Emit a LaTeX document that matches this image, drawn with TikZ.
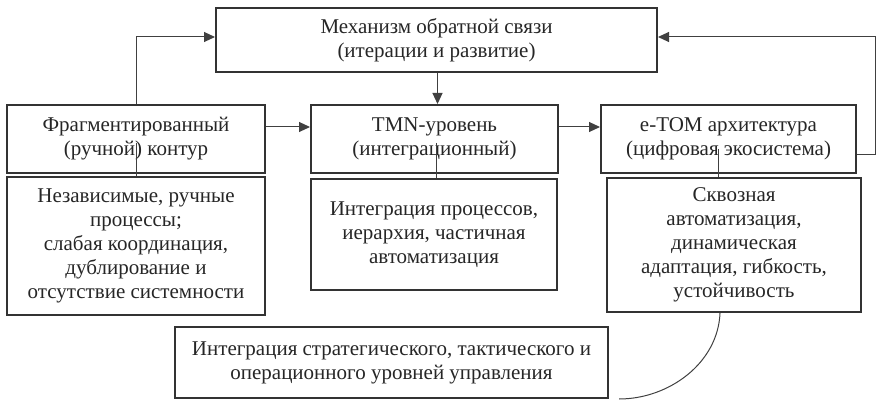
\documentclass[tikz,border=0pt]{standalone}
\usepackage{fontspec}
\setmainfont{Liberation Serif}
\usetikzlibrary{arrows.meta}

\begin{document}
\begin{tikzpicture}[x=0.5pt,y=-0.5pt,
    box/.style={draw=black!80,line width=1pt,align=center,inner sep=0pt,
      font=\fontsize{10.5}{12}\selectfont,text=black!85},
    arr/.style={draw=black!75,line width=0.5pt,-{Triangle[length=5.5pt,width=5pt]}},
    ln/.style={draw=black!75,line width=0.5pt}]
  \useasboundingbox (0,0) rectangle (881,406);
  \node[box,minimum width=220.5pt,minimum height=32pt] (mech) at (436.5,40)
    {Механизм обратной связи\\(итерации и развитие)};
  \node[box,minimum width=129pt,minimum height=34pt] (frag) at (136,139)
    {Фрагментированный\\(ручной) контур};
  \node[box,minimum width=123.5pt,minimum height=34pt] (tmn) at (434.5,139)
    {TMN-уровень\\(интеграционный)};
  \node[box,minimum width=127.5pt,minimum height=34pt] (etom) at (728.5,139)
    {e-TOM архитектура\\(цифровая экосистема)};
  \node[box,minimum width=129pt,minimum height=69pt] (fragd) at (136,246)
    {Независимые, ручные\\процессы;\\слабая координация,\\дублирование и\\отсутствие системности};
  \node[box,minimum width=123pt,minimum height=55.5pt] (tmnd) at (434,234.5)
    {Интеграция процессов,\\иерархия, частичная\\автоматизация};
  \node[box,minimum width=127pt,minimum height=67pt] (etomd) at (734,245)
    {Сквозная\\автоматизация,\\динамическая\\адаптация, гибкость,\\устойчивость};
  \node[box,minimum width=216.5pt,minimum height=35.5pt] (levels) at (391.5,362.5)
    {Интеграция стратегического, тактического и\\операционного уровней управления};

  \draw[arr] (frag.north) |- ([yshift=1.5pt]mech.west);
  \draw[arr] ([xshift=0.5pt]mech.south) -- ([xshift=0.5pt]mech.south |- tmn.north);
  \draw[arr] ([yshift=6pt]frag.east) -- ([yshift=6pt]tmn.west);
  \draw[arr] ([yshift=6pt]tmn.east) -- ([yshift=6pt]etom.west);
  \draw[arr] ([yshift=-8pt]etom.east) -- ++(18,0) |- ([yshift=1.5pt]mech.east);
  \draw[ln] ([yshift=-2pt]frag.center) -- (frag.center |- fragd.north);
  \draw[ln] ([xshift=1pt,yshift=-2pt]tmn.center) -- ([xshift=1pt]tmn.center |- tmnd.north);
  \draw[ln] ([xshift=-5pt,yshift=-5pt]etom.center) -- ([xshift=-5pt]etom.center |- etomd.north);
  \draw[ln] ([xshift=-7pt]etomd.south) .. controls +(-2,50) and +(50,0) .. ([xshift=5pt]levels.south east);
\end{tikzpicture}
\end{document}
